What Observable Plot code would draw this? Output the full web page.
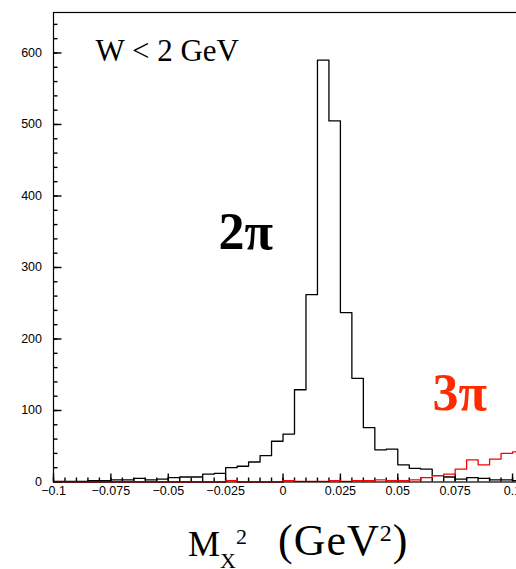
<!DOCTYPE html>
<html>
<head>
<meta charset="utf-8">
<script src="https://cdn.jsdelivr.net/npm/d3@7"></script>
<script src="https://cdn.jsdelivr.net/npm/@observablehq/plot@0.6"></script>
<style>
  html, body { margin: 0; padding: 0; background: #fff; overflow: hidden; }
  #wrap { position: relative; width: 516px; height: 569px; overflow: hidden; background: #fff; }
  #wrap svg { max-width: none !important; display: block; }
  .xt { position: absolute; font-family: "Liberation Serif", serif; white-space: nowrap; color: #000; }
  .xt span.s { position: relative; }
</style>
</head>
<body>
<div id="wrap"></div>
<script>
// bin left edges (GeV^2), bin width 0.005
const binLeft = [-0.1,-0.095,-0.09,-0.085,-0.08,-0.075,-0.07,-0.065,-0.06,-0.055,
  -0.05,-0.045,-0.04,-0.035,-0.03,-0.025,-0.02,-0.015,-0.01,-0.005,
  0,0.005,0.01,0.015,0.02,0.025,0.03,0.035,0.04,0.045,
  0.05,0.055,0.06,0.065,0.07,0.075,0.08,0.085,0.09,0.095,0.1];
const binEnd = 0.105;
// 2pi counts (black)
const counts2pi = [1,1,1,2,2,3,3,5,3,4,
  6,7,7,11,12,20,22,28,37,57,
  67,129,262,590,505,237,145,76,45,46,
  24,19,18,9,7,4,6,5,3,3,2];
// 3pi counts (red)
const counts3pi = [0,0,0,0,0,0,0,0,0,0,
  0,0,0,0,0,2,0,0,0,0,
  2,1,1,1,2,1,2,2,3,2,
  2,3,6,9,11,18,31,24,32,40,42];
const xMajor = [-0.1,-0.075,-0.05,-0.025,0,0.025,0.05,0.075,0.1];
const xMajorLabels = ["\u22120.1","\u22120.075","\u22120.05","\u22120.025","0","0.025","0.05","0.075","0.1"];
const xMinor = binLeft;
const yMajor = [0,100,200,300,400,500,600];
const yMajorLabels = ["0","100","200","300","400","500","600"];
const yMinor = [0,20,40,60,80,100,120,140,160,180,200,220,240,260,280,300,320,340,360,380,400,420,440,460,480,500,520,540,560,580,600,620,640];
const annTopLeft = ["W < 2 GeV"];
const ann2pi = ["2\u03c0"];
const ann3pi = ["3\u03c0"];

const W = 545, H = 515, ML = 53, MR = 10, MT = 12, MB = 33.5;
const xDom = [-0.1, 0.11], yDom = [0, 656.6];
const xPerPx = (xDom[1] - xDom[0]) / (W - ML - MR);
const yPerPx = (yDom[1] - yDom[0]) / (H - MT - MB);

const stepData = (counts) => binLeft.map((x, i) => ({x, v: counts[i]})).concat([{x: binEnd, v: counts[counts.length - 1]}]);
const xLab = new Map(xMajor.map((v, i) => [v, xMajorLabels[i]]));
const yLab = new Map(yMajor.map((v, i) => [v, yMajorLabels[i]]));

const chart = Plot.plot({
  width: W,
  height: H,
  marginLeft: ML,
  marginRight: MR,
  marginTop: MT,
  marginBottom: MB,
  x: {domain: xDom},
  y: {domain: yDom},
  style: {fontFamily: "'Liberation Sans', Arial, sans-serif", fontSize: "12.5px", background: "#fff", color: "#000", maxWidth: "none"},
  marks: [
    // inward ticks, lengths converted from pixels through the scales
    Plot.ruleY(yMinor, {y: d => d, x1: xDom[0], x2: xDom[0] + 4.5 * xPerPx, stroke: "#000", strokeWidth: 1.4}),
    Plot.ruleY(yMajor, {y: d => d, x1: xDom[0], x2: xDom[0] + 8.5 * xPerPx, stroke: "#000", strokeWidth: 1.4}),
    Plot.ruleX(xMinor, {x: d => d, y1: 0, y2: 4 * yPerPx, stroke: "#000", strokeWidth: 1.4}),
    Plot.ruleX(xMajor, {x: d => d, y1: 0, y2: 8 * yPerPx, stroke: "#000", strokeWidth: 1.4}),
    Plot.line(stepData(counts2pi), {x: "x", y: "v", curve: "step-after", stroke: "#000", strokeWidth: 1.3}),
    Plot.line(stepData(counts3pi), {x: "x", y: "v", curve: "step-after", stroke: "#ff0000", strokeWidth: 1.3}),
    Plot.frame({stroke: "#000", strokeWidth: 1.2}),
    Plot.axisY({ticks: yMajor, tickSize: 0, tickPadding: 11.5, tickFormat: d => yLab.get(d), label: null}),
    Plot.axisX({ticks: xMajor, tickSize: 0, tickPadding: 4, tickFormat: d => xLab.get(d), label: null}),
    Plot.text(annTopLeft, {text: d => d, frameAnchor: "top-left", lineAnchor: "middle", textAnchor: "start", dx: 42, dy: 39, fontSize: 31, fontFamily: "'Liberation Serif', serif", fill: "#000"}),
    Plot.text(ann2pi, {text: d => d, frameAnchor: "top-left", lineAnchor: "middle", textAnchor: "start", dx: 165, dy: 220, fontSize: 52, fontWeight: "bold", fontFamily: "'Liberation Serif', serif", fill: "#000"}),
    Plot.text(ann3pi, {text: d => d, frameAnchor: "top-left", lineAnchor: "middle", textAnchor: "start", dx: 379, dy: 381, fontSize: 52, fontWeight: "bold", fontFamily: "'Liberation Serif', serif", fill: "#ff2a00"})
  ]
});
const wrap = document.getElementById("wrap");
wrap.appendChild(chart);
const t1 = document.createElement("div");
t1.className = "xt";
t1.style.cssText = "left:188px;top:526px;font-size:36px;line-height:36px;";
t1.innerHTML = 'M<span class="s" style="font-size:22px;top:12px">X</span><span class="s" style="font-size:22px;top:-12px">2</span>';
wrap.appendChild(t1);
const t2 = document.createElement("div");
t2.className = "xt";
t2.style.cssText = "left:278px;top:519px;font-size:44px;line-height:44px;letter-spacing:1px;";
t2.innerHTML = '(GeV<span class="s" style="font-size:24px;top:-14px">2</span>)';
wrap.appendChild(t2);
</script>
</body>
</html>
